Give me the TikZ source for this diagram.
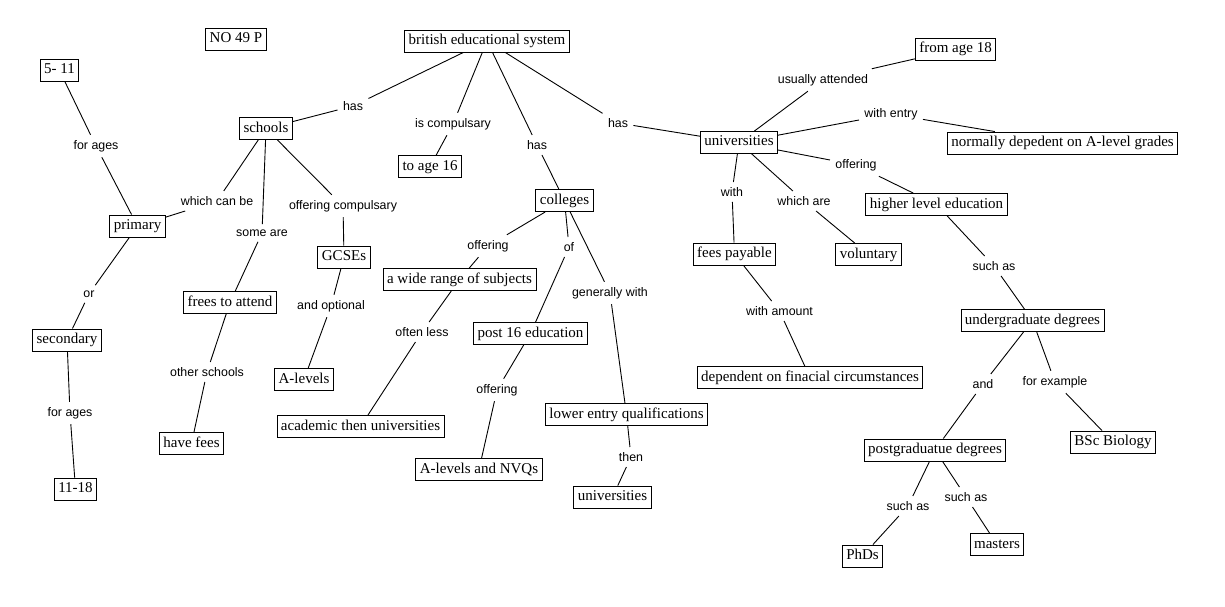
\documentclass[tikz,border=0pt]{standalone}
\usepackage{fontspec}
\setmainfont{Liberation Serif}
\setsansfont{Liberation Sans}
\usepackage{tikz}

\begin{document}
\begin{tikzpicture}[x=1pt,y=-1pt,line width=0.9pt,
	concept/.style={draw,fill=white,inner xsep=4pt,inner ysep=4pt,text height=10.5pt,text depth=3.5pt,font=\fontsize{15}{18}\selectfont},
	link/.style={inner sep=5pt,font=\sffamily\fontsize{12.4}{14}\selectfont}]
	\useasboundingbox (0,0) rectangle (1225,607);
	\node[concept] (no) at (236,39.5) {NO 49 P};
	\node[concept] (brit) at (487,41) {british educational system};
	\node[concept] (schools) at (266,128.5) {schools};
	\node[concept] (toage) at (430,166.5) {to age 16};
	\node[concept] (colleges) at (564.5,200.5) {colleges};
	\node[concept] (unis) at (739,142.5) {universities};
	\node[concept] (five) at (59.5,70.5) {5- 11};
	\node[concept] (primary) at (137.5,226) {primary};
	\node[concept] (secondary) at (67,340) {secondary};
	\node[concept] (eleven) at (75.5,489) {11-18};
	\node[concept] (frees) at (230,302.5) {frees to attend};
	\node[concept] (havefees) at (191.5,443.5) {have fees};
	\node[concept] (gcse) at (344,257) {GCSEs};
	\node[concept] (alevels) at (304,379.5) {A-levels};
	\node[concept] (wide) at (459.5,279.5) {a wide range of subjects};
	\node[concept] (academic) at (360.5,426.5) {academic then universities};
	\node[concept] (post) at (530.5,333.5) {post 16 education};
	\node[concept] (alnvq) at (479,469.5) {A-levels and NVQs};
	\node[concept] (lower) at (626.5,414.5) {lower entry qualifications};
	\node[concept] (unistwo) at (612.5,497) {universities};
	\node[concept] (fromage) at (955.5,49.5) {from age 18};
	\node[concept] (normally) at (1062.5,143) {normally depedent on A-level grades};
	\node[concept] (higher) at (936.5,204.5) {higher level education};
	\node[concept] (fees) at (734.5,254) {fees payable};
	\node[concept] (voluntary) at (868.5,254.5) {voluntary};
	\node[concept] (dependent) at (810,377.5) {dependent on finacial circumstances};
	\node[concept] (undergrad) at (1032.5,320.5) {undergraduate degrees};
	\node[concept] (postgrad) at (935,450) {postgraduatue degrees};
	\node[concept] (bsc) at (1113,442) {BSc Biology};
	\node[concept] (phds) at (862.5,556) {PhDs};
	\node[concept] (masters) at (997,544.5) {masters};

	\node[link] (hasL) at (353,106) {has};
	\node[link] (iscomp) at (453,124) {is compulsary};
	\node[link] (hasM) at (537,145) {has};
	\node[link] (hasR) at (618,123) {has};
	\node[link] (foragesA) at (96,146) {for ages};
	\node[link] (whichcan) at (217,201) {which can be};
	\node[link] (someare) at (262,233) {some are};
	\node[link] (offcomp) at (343,206) {offering compulsary};
	\node[link] (or) at (89,294) {or};
	\node[link] (foragesB) at (70,413) {for ages};
	\node[link] (other) at (207,372) {other schools};
	\node[link] (andopt) at (331,306) {and optional};
	\node[link] (offC) at (488,246) {offering};
	\node[link] (of) at (569,247) {of};
	\node[link] (generally) at (610,293) {generally with};
	\node[link] (often) at (422,332) {often less};
	\node[link] (offP) at (497,390) {offering};
	\node[link] (then) at (631,457) {then};
	\node[link] (usually) at (823,80) {usually attended};
	\node[link] (withentry) at (891,114) {with entry};
	\node[link] (offU) at (856,165) {offering};
	\node[link] (with) at (732,192) {with};
	\node[link] (whichare) at (804,201) {which are};
	\node[link] (amount) at (779.5,311) {with amount};
	\node[link] (suchasA) at (994,266) {such as};
	\node[link] (and) at (983,384) {and};
	\node[link] (forex) at (1055,382) {for example};
	\node[link] (suchasB) at (908,506) {such as};
	\node[link] (suchasC) at (966,497) {such as};

	\draw (brit) -- (hasL) -- (schools);
	\draw (brit) -- (iscomp) -- (toage);
	\draw (brit) -- (hasM) -- (colleges);
	\draw (brit) -- (hasR) -- (unis);
	\draw (five) -- (foragesA) -- (primary);
	\draw (schools) -- (whichcan) -- (primary);
	\draw (schools) -- (someare) -- (frees);
	\draw (schools) -- (offcomp) -- (gcse);
	\draw (primary) -- (or) -- (secondary);
	\draw (secondary) -- (foragesB) -- (eleven);
	\draw (frees) -- (other) -- (havefees);
	\draw (gcse) -- (andopt) -- (alevels);
	\draw (colleges) -- (offC) -- (wide);
	\draw (colleges) -- (of) -- (post);
	\draw (colleges) -- (generally) -- (lower);
	\draw (wide) -- (often) -- (academic);
	\draw (post) -- (offP) -- (alnvq);
	\draw (lower) -- (then) -- (unistwo);
	\draw (unis) -- (usually) -- (fromage);
	\draw (unis) -- (withentry) -- (normally);
	\draw (unis) -- (offU) -- (higher);
	\draw (unis) -- (with) -- (fees);
	\draw (unis) -- (whichare) -- (voluntary);
	\draw (fees) -- (amount) -- (dependent);
	\draw (higher) -- (suchasA) -- (undergrad);
	\draw (undergrad) -- (and) -- (postgrad);
	\draw (undergrad) -- (forex) -- (bsc);
	\draw (postgrad) -- (suchasB) -- (phds);
	\draw (postgrad) -- (suchasC) -- (masters);
\end{tikzpicture}
\end{document}
